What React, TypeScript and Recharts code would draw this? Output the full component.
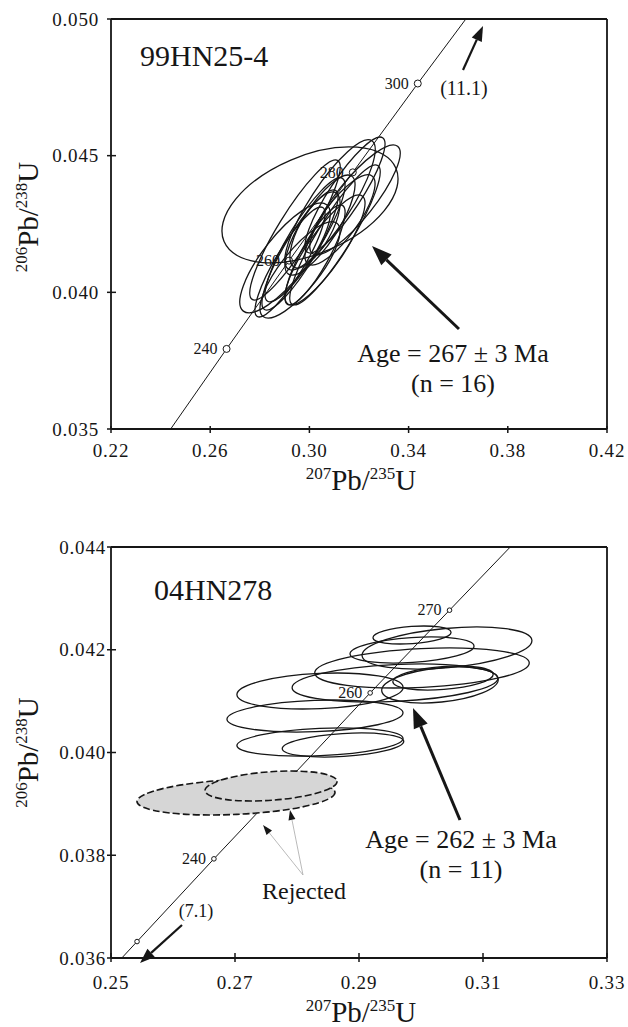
import React from 'react';
import { ComposedChart, XAxis, YAxis, Line, Scatter, ReferenceLine, ReferenceDot } from 'recharts';

const FONT = '"Liberation Serif", "Times New Roman", Times, serif';
const INK = '#161616';

// ---------- Panel A : 99HN25-4 ----------
const A_X_TICKS = [0.22, 0.26, 0.3, 0.34, 0.38, 0.42];
const A_Y_TICKS = [0.035, 0.04, 0.045, 0.05];
const A_CONC_X = [0.2419, 0.2666, 0.2918, 0.3175, 0.3437, 0.3704];
const A_CONC_Y = [0.03472, 0.03793, 0.04116, 0.04439, 0.04764, 0.05089];
const A_MARK_AGE = ['240', '260', '280', '300'];
const A_MARK_X = [0.2666, 0.2918, 0.3175, 0.3437];
const A_MARK_Y = [0.03793, 0.04116, 0.04439, 0.04764];
const A_ELL_X = [0.30024, 0.30831, 0.31436, 0.31839, 0.30428, 0.30226, 0.29823, 0.29621, 0.29218, 0.29016, 0.29621, 0.30629, 0.31032, 0.30226, 0.31234, 0.29419];
const A_ELL_Y = [0.0432, 0.0432, 0.04356, 0.04338, 0.04246, 0.04228, 0.04192, 0.04155, 0.04111, 0.04126, 0.04082, 0.04155, 0.0421, 0.04137, 0.04265, 0.04228];
const A_ELL_DX = [0.0355, 0.0182, 0.0161, 0.0182, 0.0141, 0.0101, 0.0161, 0.0153, 0.0141, 0.0182, 0.0161, 0.0161, 0.0182, 0.0121, 0.0141, 0.0182];
const A_ELL_DY = [0.00212, 0.00238, 0.00212, 0.00201, 0.00183, 0.00139, 0.00227, 0.0022, 0.00201, 0.00201, 0.00176, 0.00201, 0.00256, 0.00183, 0.00165, 0.00256];
const A_ELL_RHO = [0.45, 0.85, 0.88, 0.85, 0.8, 0.7, 0.88, 0.88, 0.88, 0.8, 0.8, 0.85, 0.9, 0.85, 0.8, 0.9];

// ---------- Panel B : 04HN278 ----------
const B_X_TICKS = [0.25, 0.27, 0.29, 0.31, 0.33];
const B_Y_TICKS = [0.036, 0.038, 0.04, 0.042, 0.044];
const B_CONC_X = [0.2419, 0.2542, 0.2666, 0.2792, 0.2918, 0.3046, 0.3175];
const B_CONC_Y = [0.03472, 0.03632, 0.03793, 0.03954, 0.04116, 0.04277, 0.04439];
const B_MARK_AGE = ['', '240', '', '260', '270'];
const B_MARK_X = [0.2542, 0.2666, 0.2792, 0.2918, 0.3046];
const B_MARK_Y = [0.03632, 0.03793, 0.03954, 0.04116, 0.04277];
const B_ELL_X = [0.29855, 0.29855, 0.30419, 0.30016, 0.30355, 0.29581, 0.28371, 0.2829, 0.28371, 0.28742, 0.30306];
const B_ELL_Y = [0.042287, 0.041995, 0.042034, 0.041645, 0.04145, 0.041353, 0.041197, 0.04071, 0.040204, 0.040146, 0.041314];
const B_ELL_DX = [0.0063, 0.01, 0.0137, 0.0173, 0.0081, 0.0166, 0.0134, 0.0142, 0.0134, 0.0098, 0.0094];
const B_ELL_DY = [0.000175, 0.000253, 0.000409, 0.000389, 0.000234, 0.00037, 0.00035, 0.000311, 0.000273, 0.000234, 0.00035];
const B_ELL_RHO = [0.3, 0.3, 0.35, 0.25, 0.3, 0.25, 0.2, 0.2, 0.25, 0.3, 0.3];
const B_REJ_X = [0.27016, 0.27581];
const B_REJ_Y = [0.039134, 0.039348];
const B_REJ_DX = [0.01597, 0.01065];
const B_REJ_DY = [0.00035, 0.000292];
const B_REJ_RHO = [0.25, 0.3];

type Pt = { x: number; y: number };

const pts = (xs: number[], ys: number[]) => xs.map((x, i) => ({ x, y: ys[i] }));
const ells = (xs: number[], ys: number[], dxs: number[], dys: number[], rs: number[]) =>
  xs.map((x, i) => ({ x, y: ys[i], dx: dxs[i], dy: dys[i], rho: rs[i] }));
const marks = (xs: number[], ys: number[], labels: string[]) => xs.map((x, i) => ({ x, y: ys[i], label: labels[i] }));

function ellipseShape(kx: number, ky: number, style: any) {
  return (props: any) => {
    const { cx, cy, payload } = props;
    if (cx == null || cy == null || !payload) return <g />;
    const sx = payload.dx * kx;
    const sy = payload.dy * ky;
    const c = -payload.rho * sx * sy;
    const a = sx * sx;
    const d = sy * sy;
    const mean = (a + d) / 2;
    const diff = Math.sqrt(((a - d) / 2) ** 2 + c * c);
    const rx = Math.sqrt(mean + diff);
    const ry = Math.sqrt(Math.max(mean - diff, 0));
    const theta = (0.5 * Math.atan2(2 * c, a - d) * 180) / Math.PI;
    return <ellipse cx={cx} cy={cy} rx={rx} ry={ry} transform={`rotate(${theta} ${cx} ${cy})`} {...style} />;
  };
}

function markerShape(r: number, fs: number, gap: number) {
  return (props: any) => {
    const { cx, cy, payload } = props;
    if (cx == null || cy == null) return <g />;
    return (
      <g>
        <circle cx={cx} cy={cy} r={r} fill="#fff" stroke={INK} strokeWidth={1} />
        {payload && payload.label ? (
          <text x={cx - gap} y={cy + fs * 0.33} textAnchor="end" fontSize={fs} fontFamily={FONT} fill={INK}>
            {payload.label}
          </text>
        ) : null}
      </g>
    );
  };
}

function arrowShape(width: number, head: number, headW: number, color: string, headColor: string) {
  return (props: any) => {
    const { x1, y1, x2, y2 } = props;
    if ([x1, y1, x2, y2].some((v) => v == null || isNaN(v))) return <g />;
    const ang = Math.atan2(y2 - y1, x2 - x1);
    const bx = x2 - head * Math.cos(ang);
    const by = y2 - head * Math.sin(ang);
    const px = (-Math.sin(ang) * headW) / 2;
    const py = (Math.cos(ang) * headW) / 2;
    return (
      <g>
        <line x1={x1} y1={y1} x2={bx} y2={by} stroke={color} strokeWidth={width} />
        <polygon points={`${x2},${y2} ${bx + px},${by + py} ${bx - px},${by - py}`} fill={headColor} />
      </g>
    );
  };
}

function textShape(txt: string, fs: number, anchor: string, spacing = 0) {
  return (props: any) => {
    const { cx, cy } = props;
    return (
      <text x={cx} y={cy} textAnchor={anchor} fontSize={fs} fontFamily={FONT} fill={INK} letterSpacing={spacing}>
        {txt}
      </text>
    );
  };
}

function makeXTick(dec: number, inLen: number, outLen: number, gap: number) {
  return (props: any) => {
    const { x, y, payload } = props;
    return (
      <g>
        <line x1={x} x2={x} y1={y - inLen} y2={y + outLen} stroke={INK} strokeWidth={1.5} />
        <text x={x} y={y + gap} textAnchor="middle" fontSize={19} fontFamily={FONT} fill={INK} letterSpacing={0.8}>
          {Number(payload.value).toFixed(dec)}
        </text>
      </g>
    );
  };
}

function makeYTick(dec: number, inLen: number, outLen: number, gap: number) {
  return (props: any) => {
    const { x, y, payload } = props;
    return (
      <g>
        <line x1={x - outLen} x2={x + inLen} y1={y} y2={y} stroke={INK} strokeWidth={1.5} />
        <text x={x - gap} y={y + 6.5} textAnchor="end" fontSize={19} fontFamily={FONT} fill={INK} letterSpacing={0.8}>
          {Number(payload.value).toFixed(dec)}
        </text>
      </g>
    );
  };
}

function ratioTitle(top: string, bottom: string) {
  return [
    <tspan key="a" fontSize={17} dy={-11}>{top}</tspan>,
    <tspan key="b" fontSize={29} dy={11}>Pb/</tspan>,
    <tspan key="c" fontSize={17} dy={-11}>{bottom}</tspan>,
    <tspan key="d" fontSize={29} dy={11}>U</tspan>,
  ];
}

function xTitle(offset: number) {
  return (props: any) => {
    const vb = props.viewBox || {};
    const cx = vb.x + vb.width / 2 + 2;
    const y = vb.y + offset;
    return (
      <text x={cx} y={y} textAnchor="middle" fontFamily={FONT} fill={INK}>
        {ratioTitle('207', '235')}
      </text>
    );
  };
}

function yTitle(bx: number, shift: number) {
  return (props: any) => {
    const vb = props.viewBox || {};
    const cy = vb.y + vb.height / 2 + shift;
    return (
      <text x={bx} y={cy} transform={`rotate(-90 ${bx} ${cy})`} textAnchor="middle" fontFamily={FONT} fill={INK}>
        {ratioTitle('206', '238')}
      </text>
    );
  };
}

type PanelCfg = {
  top: number;
  height: number;
  margin: { top: number; right: number; bottom: number; left: number };
  yAxisWidth: number;
  xAxisHeight: number;
  xDomain: [number, number];
  yDomain: [number, number];
  xTicks: number[];
  yTicks: number[];
  xTick: any;
  yTick: any;
  xTitleOffset: number;
  yTitleShift: number;
  conc: Pt[];
  marks: any[];
  markR: number;
  markGap: number;
  ellipses: any[];
  rejected: any[];
  children: React.ReactNode;
};

const WIDTH = 628;

function Panel(cfg: PanelCfg) {
  const plotW = WIDTH - cfg.margin.left - cfg.yAxisWidth - cfg.margin.right;
  const plotH = cfg.height - cfg.margin.top - cfg.margin.bottom - cfg.xAxisHeight;
  const kx = plotW / (cfg.xDomain[1] - cfg.xDomain[0]);
  const ky = plotH / (cfg.yDomain[1] - cfg.yDomain[0]);
  return (
    <div style={{ position: 'absolute', left: 0, top: cfg.top, width: WIDTH, height: cfg.height }}>
      <ComposedChart width={WIDTH} height={cfg.height} margin={cfg.margin}>
        <XAxis
          type="number"
          dataKey="x"
          domain={cfg.xDomain}
          ticks={cfg.xTicks}
          allowDataOverflow
          interval={0}
          height={cfg.xAxisHeight}
          tickSize={0}
          tickMargin={0}
          tickLine={false}
          axisLine={{ stroke: INK, strokeWidth: 1.8 }}
          tick={cfg.xTick}
          label={{ value: 'x', content: xTitle(cfg.xTitleOffset) }}
        />
        <YAxis
          type="number"
          dataKey="y"
          domain={cfg.yDomain}
          ticks={cfg.yTicks}
          allowDataOverflow
          interval={0}
          width={cfg.yAxisWidth}
          tickSize={0}
          tickMargin={0}
          tickLine={false}
          axisLine={{ stroke: INK, strokeWidth: 1.8 }}
          tick={cfg.yTick}
          label={{ value: 'y', content: yTitle(38, cfg.yTitleShift) }}
        />
        <ReferenceLine x={cfg.xDomain[1]} stroke={INK} strokeWidth={1.8} />
        <ReferenceLine y={cfg.yDomain[1]} stroke={INK} strokeWidth={1.8} />
        <Line
          data={cfg.conc}
          dataKey="y"
          type="linear"
          stroke={INK}
          strokeWidth={1}
          dot={false}
          activeDot={false}
          isAnimationActive={false}
        />
        <Scatter data={cfg.marks} dataKey="y" isAnimationActive={false} shape={markerShape(cfg.markR, 16, cfg.markGap)} />
        <Scatter
          data={cfg.ellipses}
          dataKey="y"
          isAnimationActive={false}
          shape={ellipseShape(kx, ky, { fill: 'none', stroke: INK, strokeWidth: 1.3 })}
        />
        {cfg.rejected.length ? (
          <Scatter
            data={cfg.rejected}
            dataKey="y"
            isAnimationActive={false}
            shape={ellipseShape(kx, ky, { fill: '#d6d6d6', stroke: INK, strokeWidth: 1.6, strokeDasharray: '7 3' })}
          />
        ) : null}
        {cfg.children}
      </ComposedChart>
    </div>
  );
}

export default function App() {
  const aConc = pts(A_CONC_X, A_CONC_Y);
  const bConc = pts(B_CONC_X, B_CONC_Y);
  return (
    <div style={{ position: 'absolute', left: 0, top: 0, width: WIDTH, height: 1027, background: '#fff' }}>
      <Panel
        top={0}
        height={510}
        margin={{ top: 19, right: 21, bottom: 0, left: 0 }}
        yAxisWidth={111}
        xAxisHeight={81}
        xDomain={[0.22, 0.42]}
        yDomain={[0.035, 0.05]}
        xTicks={A_X_TICKS}
        yTicks={A_Y_TICKS}
        xTick={makeXTick(2, 3, 4, 28)}
        yTick={makeYTick(3, 5, 4, 12)}
        xTitleOffset={61}
        yTitleShift={-7}
        conc={aConc}
        marks={marks(A_MARK_X, A_MARK_Y, A_MARK_AGE)}
        markR={3.5}
        markGap={9}
        ellipses={ells(A_ELL_X, A_ELL_Y, A_ELL_DX, A_ELL_DY, A_ELL_RHO)}
        rejected={[]}
      >
        <ReferenceDot x={0.2317} y={0.04828} ifOverflow="visible" shape={textShape('99HN25-4', 30, 'start')} />
        <ReferenceDot x={0.3579} y={0.03745} ifOverflow="visible" shape={textShape('Age = 267 \u00b1 3 Ma', 26, 'middle')} />
        <ReferenceDot x={0.3579} y={0.036354} ifOverflow="visible" shape={textShape('(n = 16)', 26, 'middle')} />
        <ReferenceDot x={0.36234} y={0.04722} ifOverflow="visible" shape={textShape('(11.1)', 20, 'middle')} />
        <ReferenceLine
          segment={[{ x: 0.36032, y: 0.038659 }, { x: 0.32524, y: 0.041695 }]}
          ifOverflow="visible"
          shape={arrowShape(3, 20, 15, INK, INK)}
        />
        <ReferenceLine
          segment={[{ x: 0.36194, y: 0.048134 }, { x: 0.37, y: 0.049744 }]}
          ifOverflow="visible"
          shape={arrowShape(2.2, 15, 11, INK, INK)}
        />
      </Panel>
      <Panel
        top={520}
        height={507}
        margin={{ top: 27, right: 21, bottom: 0, left: 0 }}
        yAxisWidth={111}
        xAxisHeight={69}
        xDomain={[0.25, 0.33]}
        yDomain={[0.036, 0.044]}
        xTicks={B_X_TICKS}
        yTicks={B_Y_TICKS}
        xTick={makeXTick(2, 5, 4, 31)}
        yTick={makeYTick(3, 5, 4, 5)}
        xTitleOffset={64}
        yTitleShift={0}
        conc={bConc}
        marks={marks(B_MARK_X, B_MARK_Y, B_MARK_AGE)}
        markR={2.3}
        markGap={8}
        ellipses={ells(B_ELL_X, B_ELL_Y, B_ELL_DX, B_ELL_DY, B_ELL_RHO)}
        rejected={ells(B_REJ_X, B_REJ_Y, B_REJ_DX, B_REJ_DY, B_REJ_RHO)}
      >
        <ReferenceDot x={0.25694} y={0.042968} ifOverflow="visible" shape={textShape('04HN278', 30, 'start')} />
        <ReferenceDot x={0.30645} y={0.038141} ifOverflow="visible" shape={textShape('Age = 262 \u00b1 3 Ma', 26, 'middle')} />
        <ReferenceDot x={0.30645} y={0.037557} ifOverflow="visible" shape={textShape('(n = 11)', 26, 'middle')} />
        <ReferenceDot x={0.26371} y={0.036798} ifOverflow="visible" shape={textShape('(7.1)', 18, 'middle')} />
        <ReferenceDot x={0.28113} y={0.037157} ifOverflow="visible" shape={textShape('Rejected', 24, 'middle')} />
        <ReferenceLine
          segment={[{ x: 0.30629, y: 0.038686 }, { x: 0.29871, y: 0.040866 }]}
          ifOverflow="visible"
          shape={arrowShape(3, 20, 15, INK, INK)}
        />
        <ReferenceLine
          segment={[{ x: 0.26145, y: 0.036642 }, { x: 0.25468, y: 0.035903 }]}
          ifOverflow="visible"
          shape={arrowShape(2.2, 15, 11, INK, INK)}
        />
        <ReferenceLine
          segment={[{ x: 0.28097, y: 0.037616 }, { x: 0.27452, y: 0.038589 }]}
          ifOverflow="visible"
          shape={arrowShape(0.8, 10, 7, '#a8a8a8', INK)}
        />
        <ReferenceLine
          segment={[{ x: 0.28097, y: 0.037616 }, { x: 0.27887, y: 0.038881 }]}
          ifOverflow="visible"
          shape={arrowShape(0.8, 10, 7, '#a8a8a8', INK)}
        />
      </Panel>
    </div>
  );
}
